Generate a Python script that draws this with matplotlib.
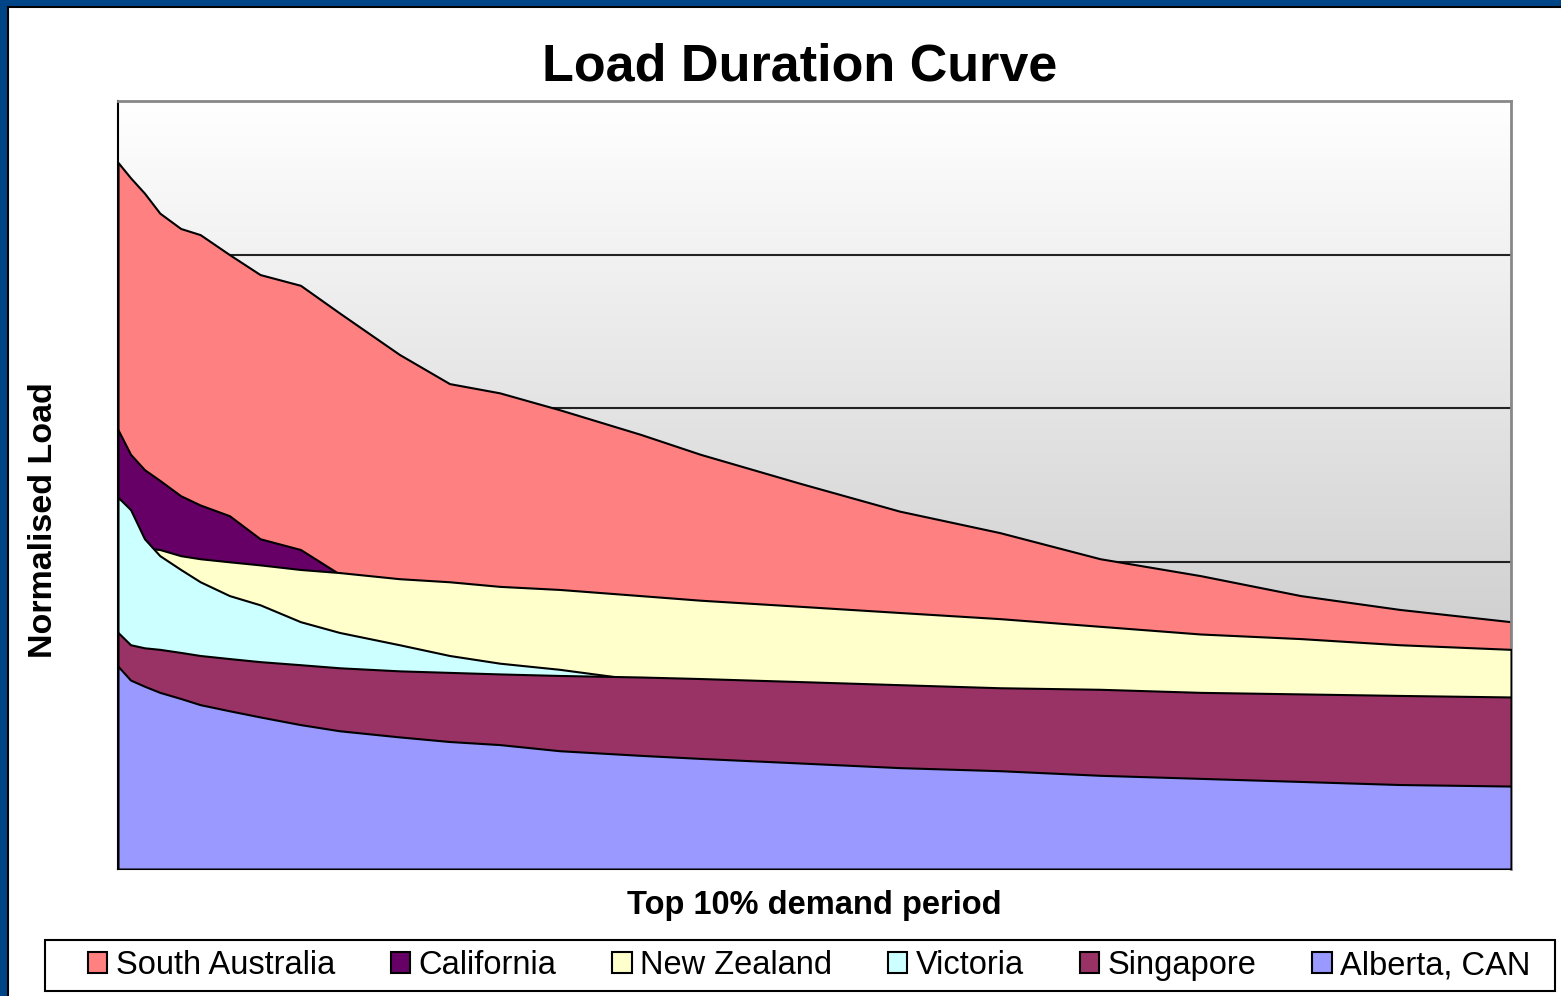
import numpy as np
import matplotlib.pyplot as plt
from matplotlib.patches import Patch, Rectangle
from matplotlib.colors import LinearSegmentedColormap

# Position within the top 10% demand period (% of period)
x = [0, 0.9, 1.9, 3.0, 4.5, 5.9, 8.0, 10.2, 13.1, 15.9, 20.2, 23.8,
     27.4, 31.7, 37.5, 41.8, 49.0, 56.1, 63.3, 70.5, 77.7, 84.9, 92.0, 100]

# Normalised load per region
south_australia = [4.60, 4.50, 4.40, 4.27, 4.17, 4.13, 4.00, 3.87, 3.80, 3.62, 3.35, 3.16,
                   3.10, 2.99, 2.83, 2.70, 2.51, 2.33, 2.19, 2.02, 1.91, 1.78, 1.69, 1.61]
california = [2.86, 2.70, 2.60, 2.53, 2.43, 2.37, 2.30, 2.15, 2.08, 1.92, 1.84, 1.82,
              1.80, 1.77, 1.73, 1.70, 1.66, 1.62, 1.58, 1.54, 1.50, 1.47, 1.43, 1.40]
new_zealand = [2.08, 2.09, 2.09, 2.08, 2.04, 2.02, 2.00, 1.98, 1.95, 1.93, 1.89, 1.87,
               1.84, 1.82, 1.78, 1.75, 1.71, 1.67, 1.63, 1.58, 1.53, 1.50, 1.46, 1.43]
victoria = [2.42, 2.34, 2.15, 2.04, 1.95, 1.87, 1.78, 1.72, 1.61, 1.54, 1.46, 1.39,
            1.34, 1.30, 1.23, 1.21, 1.18, 1.16, 1.14, 1.12, 1.10, 1.08, 1.06, 1.04]
singapore = [1.54, 1.46, 1.44, 1.43, 1.41, 1.39, 1.37, 1.35, 1.33, 1.31, 1.29, 1.28,
             1.27, 1.26, 1.25, 1.24, 1.22, 1.20, 1.18, 1.17, 1.15, 1.14, 1.13, 1.12]
alberta = [1.32, 1.23, 1.19, 1.15, 1.11, 1.07, 1.03, 0.99, 0.94, 0.90, 0.86, 0.83,
           0.81, 0.77, 0.74, 0.72, 0.69, 0.66, 0.64, 0.61, 0.59, 0.57, 0.55, 0.54]

names = ['South Australia', 'California', 'New Zealand', 'Victoria', 'Singapore', 'Alberta, CAN']
series = [south_australia, california, new_zealand, victoria, singapore, alberta]
colors = ['#FF8080', '#660066', '#FFFFCC', '#CCFFFF', '#993366', '#9999FF']

W, H = 1561, 996
fig = plt.figure(figsize=(W / 100, H / 100), dpi=100)
fig.patch.set_facecolor('white')

# blue frame on top and left
fig.patches.append(Rectangle((0, 1 - 6 / H), 1, 6 / H, transform=fig.transFigure,
                             facecolor='#004488', edgecolor='none', zorder=0))
fig.patches.append(Rectangle((0, 0), 7 / W, 1, transform=fig.transFigure,
                             facecolor='#004488', edgecolor='none', zorder=0))
fig.add_artist(plt.Line2D([7.5 / W, 1], [1 - 7 / H, 1 - 7 / H], color='black', lw=1.5,
                          transform=fig.transFigure))
fig.add_artist(plt.Line2D([7.5 / W, 7.5 / W], [0, 1 - 7 / H], color='black', lw=1.5,
                          transform=fig.transFigure))

ax = fig.add_axes([118 / W, 1 - 869 / H, (1511 - 118) / W, (869 - 101) / H])
ymax = 5.0
ax.set_xlim(0, 100)
ax.set_ylim(0, ymax)

# gradient background of plot area
bg_cmap = LinearSegmentedColormap.from_list('bg', ['#BBBBBB', '#FFFFFF'])
grad = np.linspace(0, 1, 256).reshape(-1, 1)
ax.imshow(grad, extent=[0, 100, 0, ymax], aspect='auto', cmap=bg_cmap,
          vmin=0, vmax=1, zorder=0, origin='lower')

for g in [1, 2, 3, 4]:
    ax.axhline(g, color='#222222', lw=1.5, zorder=1)

for i, (vals, c) in enumerate(zip(series, colors)):
    ax.fill_between(x, 0, vals, facecolor=c, edgecolor='black', lw=1.5, zorder=2 + i)

ax.set_xticks([])
ax.set_yticks([])
for s in ['top', 'right']:
    ax.spines[s].set_color('#888888')
    ax.spines[s].set_linewidth(2)
for s in ['left', 'bottom']:
    ax.spines[s].set_color('black')
    ax.spines[s].set_linewidth(1.5)

fig.text(800 / W, 1 - 67 / H, 'Load Duration Curve', ha='center', va='center',
         fontsize=37.5, fontweight='bold', family='Liberation Sans')
fig.text(814 / W, 1 - 905 / H, 'Top 10% demand period', ha='center', va='center',
         fontsize=23.5, fontweight='bold', family='Liberation Sans')
fig.text(44 / W, 1 - 520 / H, 'Normalised Load', ha='center', va='center', rotation=90,
         fontsize=24.5, fontweight='bold', family='Liberation Sans')

# legend box drawn separately so the entries keep their inner margin
fig.patches.append(Rectangle((45 / W, 1 - 991 / H), (1555 - 45) / W, 51 / H,
                             transform=fig.transFigure, facecolor='white',
                             edgecolor='black', lw=1.5, zorder=1))
handles = [Patch(facecolor=c, edgecolor='black', lw=1.5) for c in colors]
leg = fig.legend(handles, names, ncol=6, mode='expand', loc='center',
                 bbox_to_anchor=(78 / W, 1 - 991 / H, (1540 - 78) / W, 51 / H),
                 borderaxespad=0, frameon=False, borderpad=0.3,
                 handlelength=0.6, handleheight=0.6, handletextpad=0.25,
                 prop={'family': 'Liberation Sans', 'size': 23.5})
leg.set_zorder(2)

fig.savefig('out.png', dpi=100)
